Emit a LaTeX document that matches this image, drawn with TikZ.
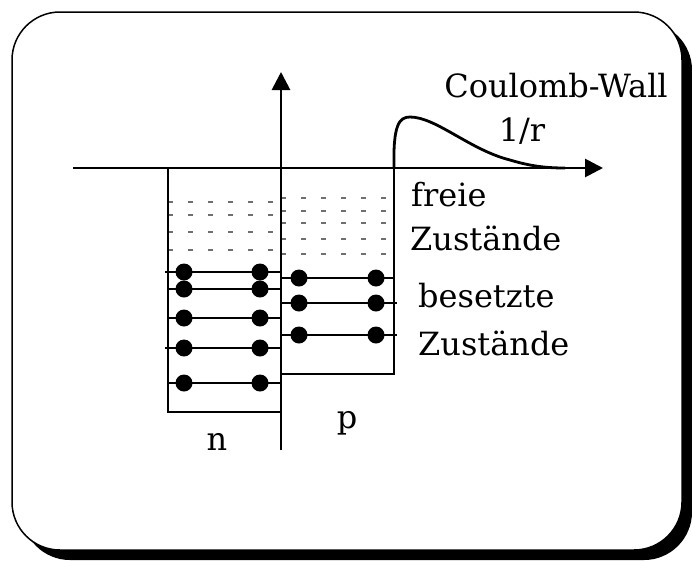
\documentclass[tikz,border=0pt]{standalone}
\usepackage{fontspec}
\setmainfont{DejaVu Serif}
\usepackage{tikz}
\usetikzlibrary{arrows.meta, calc}
\definecolor{framefill}{HTML}{FFFFFF}
\definecolor{freegray}{HTML}{6F6F6F}

\begin{document}
\begin{tikzpicture}[x=1pt, y=-1pt,
    axis/.style={line width=2.8pt, -{Triangle[length=18pt, width=18pt]}},
    level/.style={line width=2.8pt},
    wellbox/.style={line width=2.8pt},
    freedash/.style={freegray, line width=1.1pt, dash pattern=on 5pt off 15pt},
    electron/.style={circle, fill=black, inner sep=0pt, minimum size=17pt},
    statetext/.style={font=\fontsize{32}{38}\selectfont, inner sep=0pt}]
    \useasboundingbox (0,0) rectangle (692,560);
    % Frame with shadow
    \fill[black, rounded corners=48pt] (22,22) rectangle (692,560);
    \filldraw[fill=framefill, draw=black, line width=1.5pt, rounded corners=48pt] (12,12) rectangle (682,550);
    % Free states (dashed)
    \foreach \y in {202,215,232,250}
        \draw[freedash] (168,\y) -- (281,\y);
    \foreach \y in {198,211,223,239,254}
        \draw[freedash] (281,\y) -- (394,\y);
    % Potential wells n and p
    \draw[wellbox] (168,168) rectangle (281,412);
    \draw[wellbox] (281,168) rectangle (394,374);
    % Occupied states n
    \foreach \y/\xa [count=\i] in {272/165,289/168,318/168,348/165,383/168} {
        \draw[level] (\xa,\y) -- (281,\y);
        \node[electron] (nl\i) at (184,\y) {};
        \node[electron] (nr\i) at (260,\y) {};
    }
    % Occupied states p
    \foreach \y/\xb [count=\i] in {278/394,303/397,335/397} {
        \draw[level] (281,\y) -- (\xb,\y);
        \node[electron] (pl\i) at (299,\y) {};
        \node[electron] (pr\i) at (376,\y) {};
    }
    % Axes
    \coordinate (xstart) at (73,168);
    \coordinate (xend) at (603,168);
    \coordinate (ystart) at (281,450);
    \coordinate (yend) at (281,72);
    \draw[axis] (xstart) -- (xend);
    \draw[axis] (ystart) -- (yend);
    % Coulomb barrier
    \draw[line width=2.8pt] (394,168) .. controls (393,125) and (399,117) .. (410,117)
        .. controls (436,117) and (470,150) .. (510,160)
        .. controls (530,166) and (545,168) .. (565,168);
    % Labels
    \node[statetext, anchor=base] (wall) at (556,97) {Coulomb-Wall};
    \node[statetext, anchor=base] (pot) at (522,141) {1/r};
    \node[statetext, anchor=base west] (free1) at (411,206) {freie};
    \node[statetext, anchor=base west] (free2) at (410,250) {Zustände};
    \node[statetext, anchor=base west] (occ1) at (418,307) {besetzte};
    \node[statetext, anchor=base west] (occ2) at (418,355) {Zustände};
    \node[statetext, anchor=base] (plabel) at (347,428) {p};
    \node[statetext, anchor=base] (nlabel) at (217,450) {n};
\end{tikzpicture}
\end{document}
